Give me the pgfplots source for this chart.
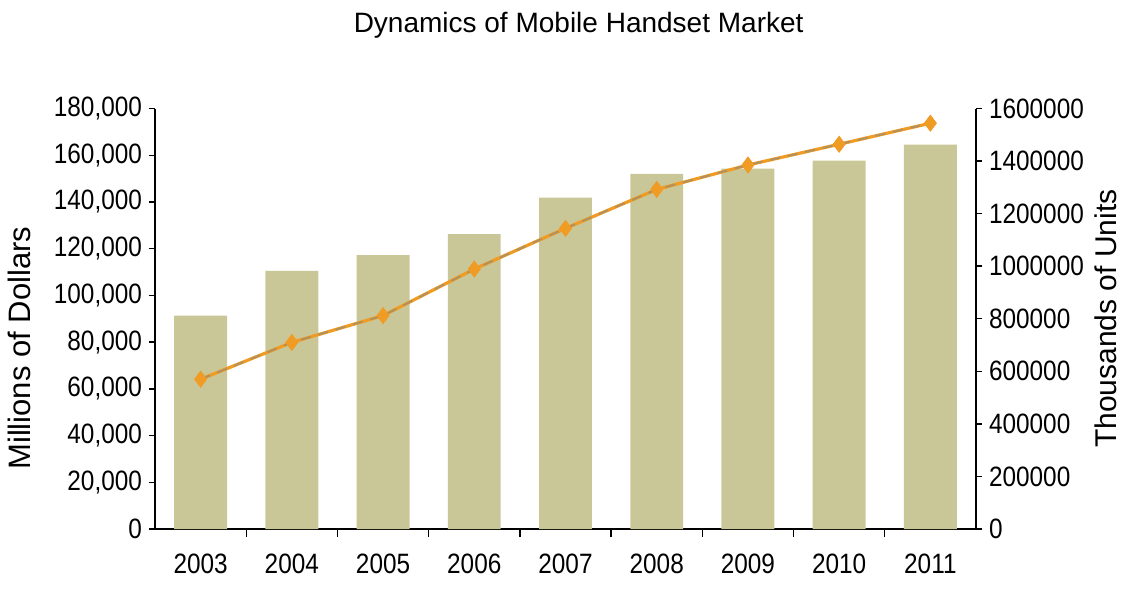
\documentclass[border=0pt]{standalone}
\usepackage{fontspec}
\setmainfont{Liberation Sans}
\newfontfamily\narrowfont[FakeStretch=0.87]{Liberation Sans}
\usepackage{pgfplots}
\pgfplotsset{compat=1.18}
\usepackage{pgfplotstable}
\definecolor{barcol}{RGB}{201,199,151}
\definecolor{linecol}{RGB}{240,155,35}
\definecolor{dashcol}{RGB}{175,145,95}

\pgfplotstableread{
x year dollars units
0 2003 91300 570000
1 2004 110500 710000
2 2005 117200 812000
3 2006 126200 989000
4 2007 141900 1144000
5 2008 152000 1292000
6 2009 154300 1385000
7 2010 157700 1464000
8 2011 164500 1544000
}\datatable

\begin{document}
\begin{tikzpicture}
\pgfplotsset{
  common/.style={
    scale only axis, width=410.5pt, height=210.25pt,
    xmin=-0.5, xmax=8.5,
    axis line style={black, line width=0.7pt, -},
    tick style={black, line width=0.7pt},
    tick align=outside,
    major tick length=3pt,
    minor tick length=4pt,
    tick label style={font=\narrowfont\fontsize{14}{16}\selectfont},
    scaled y ticks=false,
  }
}
\begin{axis}[common, name=ax,
  ymin=0, ymax=180000,
  ytick={0,20000,40000,60000,80000,100000,120000,140000,160000,180000},
  yticklabels={0,{20,000},{40,000},{60,000},{80,000},{100,000},{120,000},{140,000},{160,000},{180,000}},
  axis x line*=bottom, axis y line*=left,
  xtick={0,...,8},
  xticklabels={2003,2004,2005,2006,2007,2008,2009,2010,2011},
  major x tick style={draw=none},
  minor x tick num=1,
  xticklabel style={yshift=-6pt},
  ylabel={Millions of Dollars},
  ylabel style={font=\fontsize{15.5}{18}\selectfont, at={(axis description cs:-0.1657,0.43)}, anchor=center},
  title={Dynamics of Mobile Handset Market},
  title style={font=\fontsize{14}{16}\selectfont, at={(axis description cs:0.516,1)}, anchor=base, yshift=32pt},
]
\addplot[ybar, bar width=0.58, fill=barcol, draw=none] table[x=x, y=dollars] {\datatable};
\end{axis}
\begin{axis}[common,
  ymin=0, ymax=1600000,
  ytick={0,200000,400000,600000,800000,1000000,1200000,1400000,1600000},
  yticklabels={0,200000,400000,600000,800000,1000000,1200000,1400000,1600000},
  axis y line*=right,
  hide x axis,
  ylabel={Thousands of Units},
  ylabel style={font=\fontsize{15}{18}\selectfont, at={(axis description cs:1.158,0.5)}, anchor=center},
]
\addplot[linecol, line width=1.6pt, no marks] table[x=x, y=units] {\datatable};
\addplot[dashcol, line width=0.9pt, dash pattern=on 5pt off 4pt, no marks] table[x=x, y=units] {\datatable};
\addplot[only marks, mark=diamond*, mark size=4pt, mark options={fill=linecol, draw=linecol}] table[x=x, y=units] {\datatable};
\end{axis}
\pgfresetboundingbox
\path[use as bounding box] ([shift={(-77.5pt,-30.5pt)}]ax.south west) rectangle ([shift={(75.5pt,54.25pt)}]ax.north east);
\end{tikzpicture}
\end{document}
